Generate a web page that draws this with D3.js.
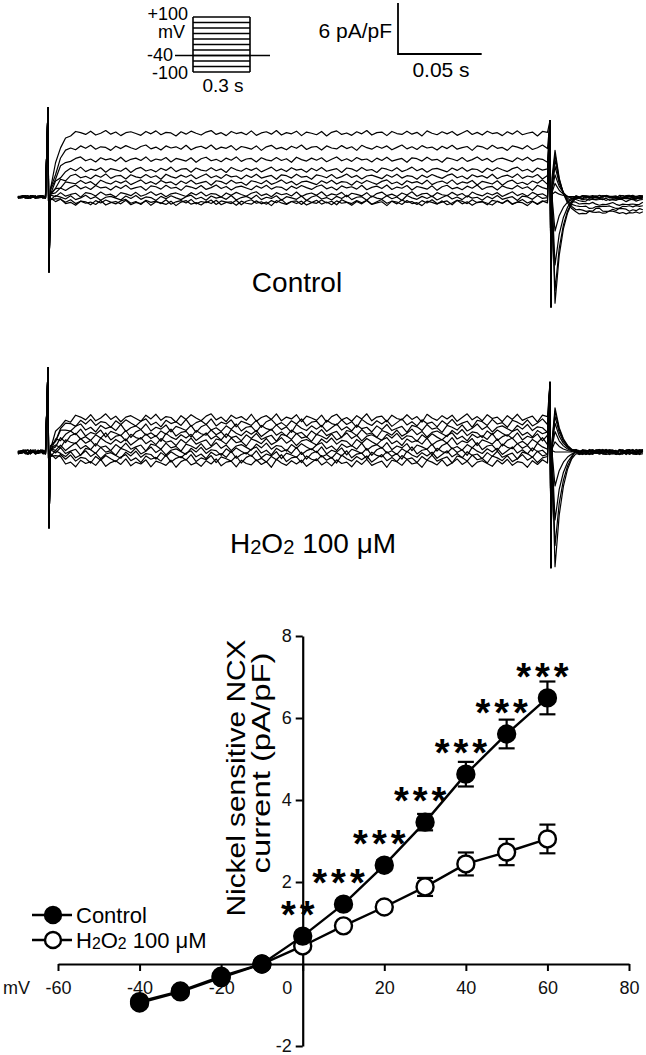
<!DOCTYPE html>
<html>
<head>
<meta charset="utf-8">
<script src="https://cdn.jsdelivr.net/npm/d3@7"></script>
<style>
body{margin:0;background:#fff}
svg{display:block;font-family:"Liberation Sans",Arial,sans-serif}
</style>
</head>
<body>
<svg id="fig" width="646" height="1055"></svg>
<script>
// ---- I-V curve data (pA/pF) ----
var voltages = [-40,-30,-20,-10,0,10,20,30,40,50,60]
var controlMean = [-0.95,-0.68,-0.33,0.0,0.68,1.46,2.41,3.46,4.63,5.61,6.49]
var controlErr = [0.06,0.06,0.05,0.04,0.08,0.1,0.12,0.2,0.3,0.35,0.4]
var h2o2Mean = [-0.92,-0.66,-0.3,0.0,0.44,0.93,1.39,1.88,2.44,2.73,3.05]
var h2o2Err = [0.06,0.06,0.05,0.04,0.06,0.08,0.12,0.22,0.28,0.32,0.35]
var stars = ["","","","","**","***","***","***","***","***","***"]
var xTicks = [-60,-40,-20,0,20,40,60,80]
var yTicks = [-2,2,4,6,8]

// ---- voltage protocol (mV) ----
var protocolSteps = [-100,-80,-60,-40,-20,0,20,40,60,80,100]
var holding = -40

// ---- current traces (pA/pF), one value per voltage step, top to bottom ----
var controlSteps = [7.5,5.8,4.4,3.2,2.4,1.7,1.1,0.3,-0.1,-0.6,-0.7]
var controlTails = [-1.8,-1.5,-1.2,-0.8,-0.4,-0.2,0,0,0,0,0]
var controlOffHump = [5.5,5.0,4.4,3.6,2.6,1.6,0.6,-4,-8,-11,-12.5]
var controlOn = [10.5,-8.8]
var controlOff = [9.0,-12.9]
var h2o2Steps = [4.0,3.4,2.8,2.2,1.75,1.2,0.6,0.1,-0.35,-0.8,-1.3]
var h2o2Tails = [0,0,0,0,0,0,0,0,0,0,0]
var h2o2OffHump = [5.2,4.8,4.2,3.4,2.4,1.2,0,-4,-8,-11,-13.5]
var h2o2On = [9.9,-8.9]
var h2o2Off = [8.2,-13.6]
var riseShape = [0.15,0.5,0.78,0.92]
var humpShape = [1,0.55,0.3,0.15,0.06]
// recorded noise sample, reused with a shift for each sweep
var noise = [0.3,-0.5,0.8,-0.2,0.1,-0.9,0.6,0.2,-0.4,0.7,-0.6,0.0,0.9,-0.3,0.4,-0.8,0.2,0.5,-0.1,-0.7,
  0.6,-0.2,0.8,-0.5,0.3,0.1,-0.9,0.5,-0.3,0.7,0.0,-0.6,0.4,0.9,-0.4,0.2,-0.8,0.6,-0.1,0.3,
  -0.5,0.8,-0.7,0.1,0.5,-0.3,0.9,-0.6,0.2,-0.2,0.7,-0.8,0.4,0.0,-0.5,0.6,-0.9,0.3,0.8,-0.4,
  0.1,-0.7,0.5,-0.2,0.9,-0.6,0.2,0.4,-0.8,0.6,-0.1,-0.4,0.7,-0.3,0.3,-0.9,0.8,0.0,-0.5,0.5,
  -0.2,0.6,-0.7,0.1,0.9,-0.4,0.3,-0.6,0.7,-0.1,0.2,-0.8,0.5,-0.3,0.8,-0.5,0.0,0.4,-0.9,0.6]

var svg = d3.select("#fig")

// ================= protocol inset =================
var vScale = d3.scaleLinear().domain([-100,100]).range([72,17])
var prot = svg.append("g").attr("stroke","#000").attr("stroke-width",1.6)
prot.selectAll("line.step")
    .data(protocolSteps)
    .enter()
    .append("line")
    .attr("x1",193).attr("x2",250)
    .attr("y1",function(d){return vScale(d)})
    .attr("y2",function(d){return vScale(d)})
prot.append("line").attr("x1",193).attr("x2",193).attr("y1",vScale(-100)).attr("y2",vScale(100))
prot.append("line").attr("x1",250).attr("x2",250).attr("y1",vScale(-100)).attr("y2",vScale(100))
prot.append("line").attr("x1",175).attr("x2",270).attr("y1",vScale(holding)).attr("y2",vScale(holding))

var protText = [["+100",188,20],["mV",185,38],["-40",173,61],["-100",188,79]]
svg.selectAll("text.prot")
    .data(protText)
    .enter()
    .append("text")
    .attr("class","prot")
    .attr("x",function(d){return d[1]})
    .attr("y",function(d){return d[2]})
    .attr("text-anchor","end")
    .attr("font-size",18)
    .text(function(d){return d[0]})
svg.append("text").attr("x",223).attr("y",92).attr("text-anchor","middle").attr("font-size",19).text("0.3 s")

// ================= traces =================
var tScale = d3.scaleLinear().domain([0,0.3]).range([48,550])
var pxPerUnit = 51/6

// scale bar
svg.append("path")
    .attr("d","M"+398+",3V"+(54)+"H"+(398+tScale(0.05)-tScale(0)))
    .attr("fill","none").attr("stroke","#000").attr("stroke-width",1.8)
svg.append("text").attr("x",392).attr("y",38).attr("text-anchor","end").attr("font-size",21).text("6 pA/pF")
svg.append("text").attr("x",441).attr("y",77).attr("text-anchor","middle").attr("font-size",21).text("0.05 s")

var tracePoints = function(level, tail, hump, k, amp, on, off)
{
    var pts = []
    var n = noise.length
    for (var j = 0; j < 12; j++)
        pts.push([-0.018 + j*0.0015, noise[(j*3 + k*7) % n]*amp*0.5])
    pts.push([0, on[0]])
    pts.push([0.0006, on[1]])
    pts.push([0.0014, 0])
    for (var s = 1; s <= 100; s++)
    {
        var f = s <= riseShape.length ? riseShape[s-1] : 1
        pts.push([0.0015 + (s-1)*0.003, level*f + noise[(s + k*13) % n]*amp])
    }
    pts.push([0.3, off[0]])
    pts.push([0.3006, off[1]])
    pts.push([0.0012+0.3, level*0.3])
    for (var h = 0; h < humpShape.length; h++)
        pts.push([0.303 + h*0.0025, tail + (hump - tail)*humpShape[h]])
    for (var r = 0; r < 21; r++)
        pts.push([0.3155 + r*0.002, tail + noise[(r*5 + k*11) % n]*amp*0.6])
    return pts
}

var drawTraces = function(base, steps, tails, humps, amp, on, off)
{
    var cur = d3.scaleLinear().domain([0,6]).range([base, base - 6*pxPerUnit])
    var line = d3.line()
        .x(function(d){return tScale(d[0])})
        .y(function(d){return cur(d[1])})
    svg.append("g")
        .selectAll("path")
        .data(steps)
        .enter()
        .append("path")
        .attr("d",function(level,i){return line(tracePoints(level, tails[i], humps[i], i, amp, on, off))})
        .attr("fill","none")
        .attr("stroke","#000")
        .attr("stroke-width",1.2)
        .attr("stroke-linejoin","round")
}
drawTraces(197, controlSteps, controlTails, controlOffHump, 0.35, controlOn, controlOff)
drawTraces(452, h2o2Steps, h2o2Tails, h2o2OffHump, 0.55, h2o2On, h2o2Off)

svg.append("text").attr("x",297).attr("y",292).attr("text-anchor","middle").attr("font-size",28).text("Control")

var h2o2Label = function(sel, size)
{
    sel.append("tspan").text("H")
    sel.append("tspan").attr("font-size",size*0.72).attr("dy",1).text("2")
    sel.append("tspan").attr("dy",-1).text("O")
    sel.append("tspan").attr("font-size",size*0.72).attr("dy",1).text("2")
    sel.append("tspan").attr("dy",-1).text(" 100 \u03BCM")
}
var lab = svg.append("text").attr("x",313).attr("y",553).attr("text-anchor","middle").attr("font-size",28)
h2o2Label(lab, 28)

// ================= I-V plot =================
var x = d3.scaleLinear().domain([-60,80]).range([58,629])
var y = d3.scaleLinear().domain([-2,8]).range([1046,636])

var xAxis = d3.axisBottom(x).tickValues(xTicks).tickSize(7).tickSizeOuter(0).tickPadding(10)
    .tickFormat(function(d){return String(d)})
var yAxis = d3.axisLeft(y).tickValues(yTicks).tickSize(7).tickSizeOuter(0).tickPadding(4)
    .tickFormat(function(d){return String(d)})

var gx = svg.append("g").attr("transform","translate(0,"+y(0)+")").call(xAxis)
var gy = svg.append("g").attr("transform","translate("+x(0)+",0)").call(yAxis)
;[gx,gy].forEach(function(g)
{
    g.select(".domain").attr("stroke-width",2.2)
    g.selectAll(".tick line").attr("stroke-width",2)
    g.selectAll(".tick text").attr("font-size",18).attr("font-family","Liberation Sans, Arial, sans-serif").attr("fill","#111")
})
gx.selectAll(".tick text").filter(function(d){return d === 0}).attr("x",-16)
svg.append("text").attr("x",3).attr("y",994).attr("font-size",18).attr("fill","#111").text("mV")

svg.append("text").attr("transform","translate(245,778) rotate(-90)")
    .attr("text-anchor","middle").attr("font-size",25)
    .attr("textLength",277).attr("lengthAdjust","spacingAndGlyphs")
    .text("Nickel sensitive NCX")
svg.append("text").attr("transform","translate(270,763) rotate(-90)")
    .attr("text-anchor","middle").attr("font-size",25)
    .attr("textLength",221).attr("lengthAdjust","spacingAndGlyphs")
    .text("current (pA/pF)")

var series = [
    {name:"H2O2", mean:h2o2Mean, err:h2o2Err, fill:"#fff"},
    {name:"Control", mean:controlMean, err:controlErr, fill:"#000"}
]
var ivLine = d3.line()
    .x(function(d,i){return x(voltages[i])})
    .y(function(d){return y(d)})

series.forEach(function(s)
{
    var g = svg.append("g")
    g.append("path").attr("d",ivLine(s.mean)).attr("fill","none").attr("stroke","#000").attr("stroke-width",2.4)
    var eb = g.selectAll("g.eb").data(s.mean).enter().append("g")
    eb.append("line")
        .attr("x1",function(d,i){return x(voltages[i])})
        .attr("x2",function(d,i){return x(voltages[i])})
        .attr("y1",function(d,i){return y(d + s.err[i])})
        .attr("y2",function(d,i){return y(d - s.err[i])})
        .attr("stroke","#000").attr("stroke-width",2.2)
    ;[1,-1].forEach(function(sign)
    {
        eb.append("line")
            .attr("x1",function(d,i){return x(voltages[i]) - 8})
            .attr("x2",function(d,i){return x(voltages[i]) + 8})
            .attr("y1",function(d,i){return y(d + sign*s.err[i])})
            .attr("y2",function(d,i){return y(d + sign*s.err[i])})
            .attr("stroke","#000").attr("stroke-width",2.2)
    })
    eb.append("circle")
        .attr("cx",function(d,i){return x(voltages[i])})
        .attr("cy",function(d){return y(d)})
        .attr("r",8.5)
        .attr("fill",s.fill)
        .attr("stroke","#000").attr("stroke-width",2.4)
})

svg.selectAll("text.star")
    .data(stars)
    .enter()
    .append("text")
    .attr("class","star")
    .attr("x",function(d,i){return x(voltages[i]) - 3})
    .attr("y",function(d,i){return y(controlMean[i]) - 8})
    .attr("text-anchor","middle")
    .attr("font-size",38)
    .attr("font-weight","bold")
    .attr("letter-spacing",4)
    .text(function(d){return d})

// legend
var legend = [{label:"Control", fill:"#000"}, {label:"H2O2", fill:"#fff"}]
var lg = svg.selectAll("g.legend").data(legend).enter().append("g")
    .attr("transform",function(d,i){return "translate(0,"+(915 + i*25)+")"})
lg.append("line").attr("x1",32).attr("x2",72).attr("stroke","#000").attr("stroke-width",2.4)
lg.append("circle").attr("cx",53).attr("r",8).attr("fill",function(d){return d.fill})
    .attr("stroke","#000").attr("stroke-width",2.4)
lg.each(function(d)
{
    var t = d3.select(this).append("text").attr("x",76).attr("y",8).attr("font-size",22)
    if (d.label === "Control") t.text("Control")
    else h2o2Label(t, 22)
})
</script>
</body>
</html>
